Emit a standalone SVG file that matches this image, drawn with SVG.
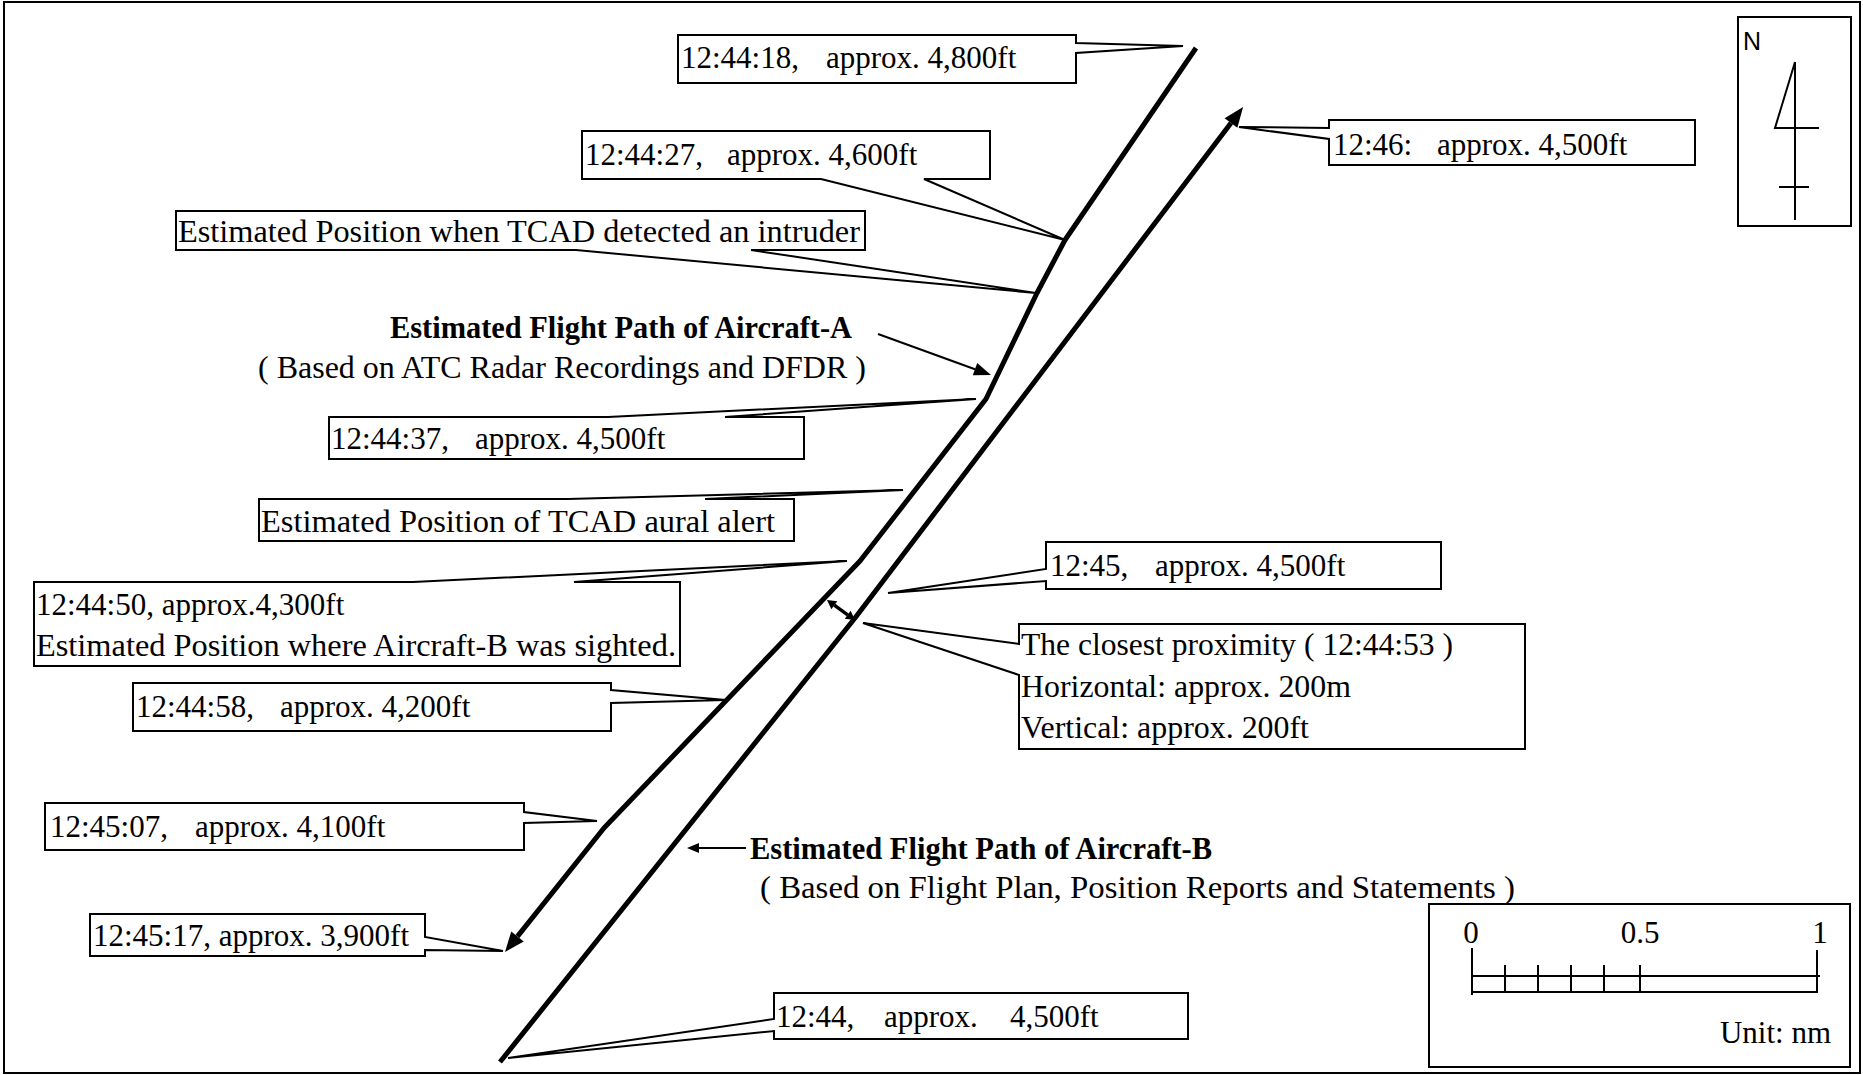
<svg xmlns="http://www.w3.org/2000/svg" width="1863" height="1075" viewBox="0 0 1863 1075">
<style>
  .frame{fill:none;stroke:#000;stroke-width:2}
  .box{fill:#fff;stroke:#000;stroke-width:2;stroke-linejoin:miter}
  .t{font-family:"Liberation Serif","Times New Roman",serif;font-size:31px;fill:#000}
  .b{font-family:"Liberation Serif","Times New Roman",serif;font-size:31px;font-weight:bold;fill:#000}
  .s{font-family:"Liberation Sans",Arial,sans-serif;font-size:25px;fill:#000}
  .path{fill:none;stroke:#000;stroke-width:5;stroke-linejoin:round}
  .thin{fill:none;stroke:#000;stroke-width:2}
  .mid{fill:none;stroke:#000;stroke-width:3.5}
</style>
<defs>
  <marker id="ahBig" markerUnits="userSpaceOnUse" markerWidth="20" markerHeight="16" refX="0" refY="8" orient="auto" overflow="visible"><path d="M0,0 L20,8 L0,16 Z" fill="#000"/></marker>
  <marker id="ahMid" markerUnits="userSpaceOnUse" markerWidth="17" markerHeight="13" refX="0" refY="6.5" orient="auto" overflow="visible"><path d="M0,0 L17,6.5 L0,13 Z" fill="#000"/></marker>
  <marker id="ahSm" markerUnits="userSpaceOnUse" markerWidth="12" markerHeight="10" refX="0" refY="5" orient="auto" overflow="visible"><path d="M0,0 L12,5 L0,10 Z" fill="#000"/></marker>
  <marker id="ahDbl" markerUnits="userSpaceOnUse" markerWidth="9" markerHeight="10" refX="0" refY="5" orient="auto-start-reverse" overflow="visible"><path d="M0,0 L9,5 L0,10 Z" fill="#000"/></marker>
</defs>
<rect x="0" y="0" width="1863" height="1075" fill="#fff"/>
<rect class="frame" x="4" y="2" width="1856" height="1071"/>

<g id="nodes">
  <g id="n-124418">
    <path class="box" d="M678,35 H1076 V43 L1183,46 L1076,53 V83 H678 Z"/>
    <text class="t" y="68"><tspan x="681">12:44:18,</tspan><tspan x="826">approx. 4,800ft</tspan></text>
  </g>
  <g id="n-124427">
    <path class="box" d="M582,131 H990 V179 H924 L1065,240 L821,179 H582 Z"/>
    <text class="t" y="165"><tspan x="585">12:44:27,</tspan><tspan x="727">approx. 4,600ft</tspan></text>
  </g>
  <g id="n-tcad-detect">
    <path class="box" d="M176,211 H865 V250 H751 L1036,293 L576,250 H176 Z"/>
    <text class="t" x="178" y="242" textLength="682" lengthAdjust="spacingAndGlyphs">Estimated Position when TCAD detected an intruder</text>
  </g>
  <g id="n-label-a">
    <text class="b" x="390" y="338" textLength="462" lengthAdjust="spacingAndGlyphs">Estimated Flight Path of Aircraft-A</text>
    <text class="t" x="258" y="378" textLength="608" lengthAdjust="spacingAndGlyphs">( Based on ATC Radar Recordings and DFDR )</text>
  </g>
  <g id="n-124437">
    <path class="box" d="M329,417 H608 L976,399 L725,417 H804 V459 H329 Z"/>
    <text class="t" y="449"><tspan x="331">12:44:37,</tspan><tspan x="475">approx. 4,500ft</tspan></text>
  </g>
  <g id="n-tcad-aural">
    <path class="box" d="M259,499 H568 L903,490 L705,499 H794 V541 H259 Z"/>
    <text class="t" x="261" y="532" textLength="514" lengthAdjust="spacingAndGlyphs">Estimated Position of TCAD aural alert</text>
  </g>
  <g id="n-124450">
    <path class="box" d="M34,582 H413 L847,561 L574,582 H680 V666 H34 Z"/>
    <text class="t" x="36" y="615">12:44:50, approx.4,300ft</text>
    <text class="t" x="36" y="656" textLength="640" lengthAdjust="spacingAndGlyphs">Estimated Position where Aircraft-B was sighted.</text>
  </g>
  <g id="n-124458">
    <path class="box" d="M133,683 H611 V690 L726,700 L611,703 V731 H133 Z"/>
    <text class="t" y="717"><tspan x="136">12:44:58,</tspan><tspan x="280">approx. 4,200ft</tspan></text>
  </g>
  <g id="n-124507">
    <path class="box" d="M45,803 H524 V812 L597,821 L524,823 V850 H45 Z"/>
    <text class="t" y="837"><tspan x="50">12:45:07,</tspan><tspan x="195">approx. 4,100ft</tspan></text>
  </g>
  <g id="n-124517">
    <path class="box" d="M90,914 H425 V937 L503,951 L425,950 V956 H90 Z"/>
    <text class="t" x="93" y="946">12:45:17, approx. 3,900ft</text>
  </g>
  <g id="n-label-b">
    <text class="b" x="750" y="859" textLength="462" lengthAdjust="spacingAndGlyphs">Estimated Flight Path of Aircraft-B</text>
    <text class="t" x="760" y="898" textLength="755" lengthAdjust="spacingAndGlyphs">( Based on Flight Plan, Position Reports and Statements )</text>
  </g>
  <g id="n-1244">
    <path class="box" d="M774,993 H1188 V1039 H774 V1031 L508,1058 L774,1019 Z"/>
    <text class="t" y="1027"><tspan x="776">12:44,</tspan><tspan x="884">approx.</tspan><tspan x="1010">4,500ft</tspan></text>
  </g>
  <g id="n-1245">
    <path class="box" d="M1046,542 H1441 V589 H1046 V581 L888,593 L1046,569 Z"/>
    <text class="t" y="576"><tspan x="1050">12:45,</tspan><tspan x="1155">approx. 4,500ft</tspan></text>
  </g>
  <g id="n-closest">
    <path class="box" d="M1019,624 H1525 V749 H1019 V675 L863,623 L1019,644 Z"/>
    <text class="t" x="1021" y="655" textLength="432" lengthAdjust="spacingAndGlyphs">The closest proximity ( 12:44:53 )</text>
    <text class="t" x="1021" y="697" textLength="330" lengthAdjust="spacingAndGlyphs">Horizontal: approx. 200m</text>
    <text class="t" x="1021" y="738" textLength="288" lengthAdjust="spacingAndGlyphs">Vertical: approx. 200ft</text>
  </g>
  <g id="n-1246">
    <path class="box" d="M1329,120 H1695 V165 H1329 V139 L1239,127 L1329,128 Z"/>
    <text class="t" y="155"><tspan x="1333">12:46:</tspan><tspan x="1437">approx. 4,500ft</tspan></text>
  </g>
  <g id="n-compass">
    <rect class="box" x="1738" y="17" width="113" height="209"/>
    <text class="s" x="1743" y="50">N</text>
    <path class="thin" d="M1795,62 V220 M1795,62 L1775,128 H1819 M1779,187 H1809"/>
  </g>
  <g id="n-scale">
    <rect class="box" x="1429" y="904" width="421" height="163"/>
    <text class="t" x="1471" y="943" text-anchor="middle">0</text>
    <text class="t" x="1640" y="943" text-anchor="middle">0.5</text>
    <text class="t" x="1820" y="943" text-anchor="middle">1</text>
    <path class="thin" d="M1472,948 V995 M1472,976 H1820 M1472,992 H1818 M1817,950 V992 M1505,965 V992 M1538,965 V992 M1571,965 V992 M1604,965 V992 M1640,965 V992"/>
    <text class="t" x="1831" y="1043" text-anchor="end">Unit: nm</text>
  </g>
</g>

<g id="connectors">
  <polyline id="path-a" class="path" points="1196,48 1065,240 1037,293 986,399 860,561 604,828 517.5,936.4" marker-end="url(#ahBig)"/>
  <polyline id="path-b" class="path" points="500,1062 855,618 1231,123" marker-end="url(#ahBig)"/>
  <line id="arrow-label-a" class="thin" x1="878" y1="334" x2="975" y2="369.2" marker-end="url(#ahMid)"/>
  <line id="arrow-label-b" class="thin" x1="746" y1="848" x2="699" y2="848" marker-end="url(#ahSm)"/>
  <line id="arrow-closest" class="mid" x1="834.3" y1="605.2" x2="847.7" y2="614.8" marker-start="url(#ahDbl)" marker-end="url(#ahDbl)"/>
</g>
</svg>
